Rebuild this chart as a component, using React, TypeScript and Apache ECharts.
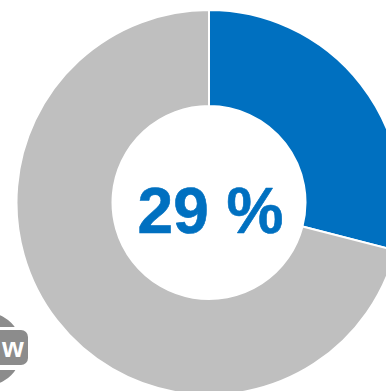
import React, { useEffect, useRef } from "react";
import * as echarts from "echarts";

const sliceNames = ["Share", "Rest"];
const sliceValues = [29, 71];
const sliceColors = ["#0070C0", "#BFBFBF"];
const centerLabel = "29 %";
const badgeLabel = "w";

export default function App() {
  const ref = useRef<HTMLDivElement>(null);
  useEffect(() => {
    document.body.style.margin = "0";
    document.body.style.background = "#fff";
    const chart = echarts.init(ref.current!, undefined, { renderer: "svg" });
    chart.setOption({
      animation: false,
      backgroundColor: "#ffffff",
      series: [
        {
          type: "pie",
          center: [209, 202.5],
          radius: [96.5, 192.5],
          startAngle: 90,
          clockwise: true,
          silent: true,
          label: { show: false },
          labelLine: { show: false },
          itemStyle: { borderColor: "#ffffff", borderWidth: 2 },
          data: sliceValues.map((value, i) => ({
            name: sliceNames[i],
            value,
            itemStyle: { color: sliceColors[i] },
          })),
        },
      ],
      graphic: [
        {
          type: "text",
          x: 210.5,
          y: 211,
          style: {
            text: centerLabel,
            fontFamily: "Liberation Sans",
            fontWeight: "bold",
            fontSize: 64,
            fill: "#0070C0",
            stroke: "#0070C0",
            lineWidth: 0.6,
            align: "center",
            verticalAlign: "middle",
          },
        },
        // Small globe badge in the lower-left corner
        {
          type: "circle",
          shape: { cx: -15, cy: 349, r: 37 },
          style: { fill: "#8c8c8c" },
        },
        {
          type: "rect",
          shape: { x: -14, y: 327, width: 60, height: 43 },
          style: { fill: "#ffffff" },
        },
        {
          type: "rect",
          shape: { x: -14, y: 330, width: 42, height: 35, r: 7 },
          style: { fill: "#8c8c8c" },
        },
        {
          type: "text",
          x: 13,
          y: 347.5,
          style: {
            text: badgeLabel,
            fontFamily: "Liberation Sans",
            fontWeight: "bold",
            fontSize: 28,
            fill: "#ffffff",
            align: "center",
            verticalAlign: "middle",
          },
        },
      ],
    });
    return () => chart.dispose();
  }, []);
  return <div ref={ref} style={{ width: 386, height: 391 }} />;
}
